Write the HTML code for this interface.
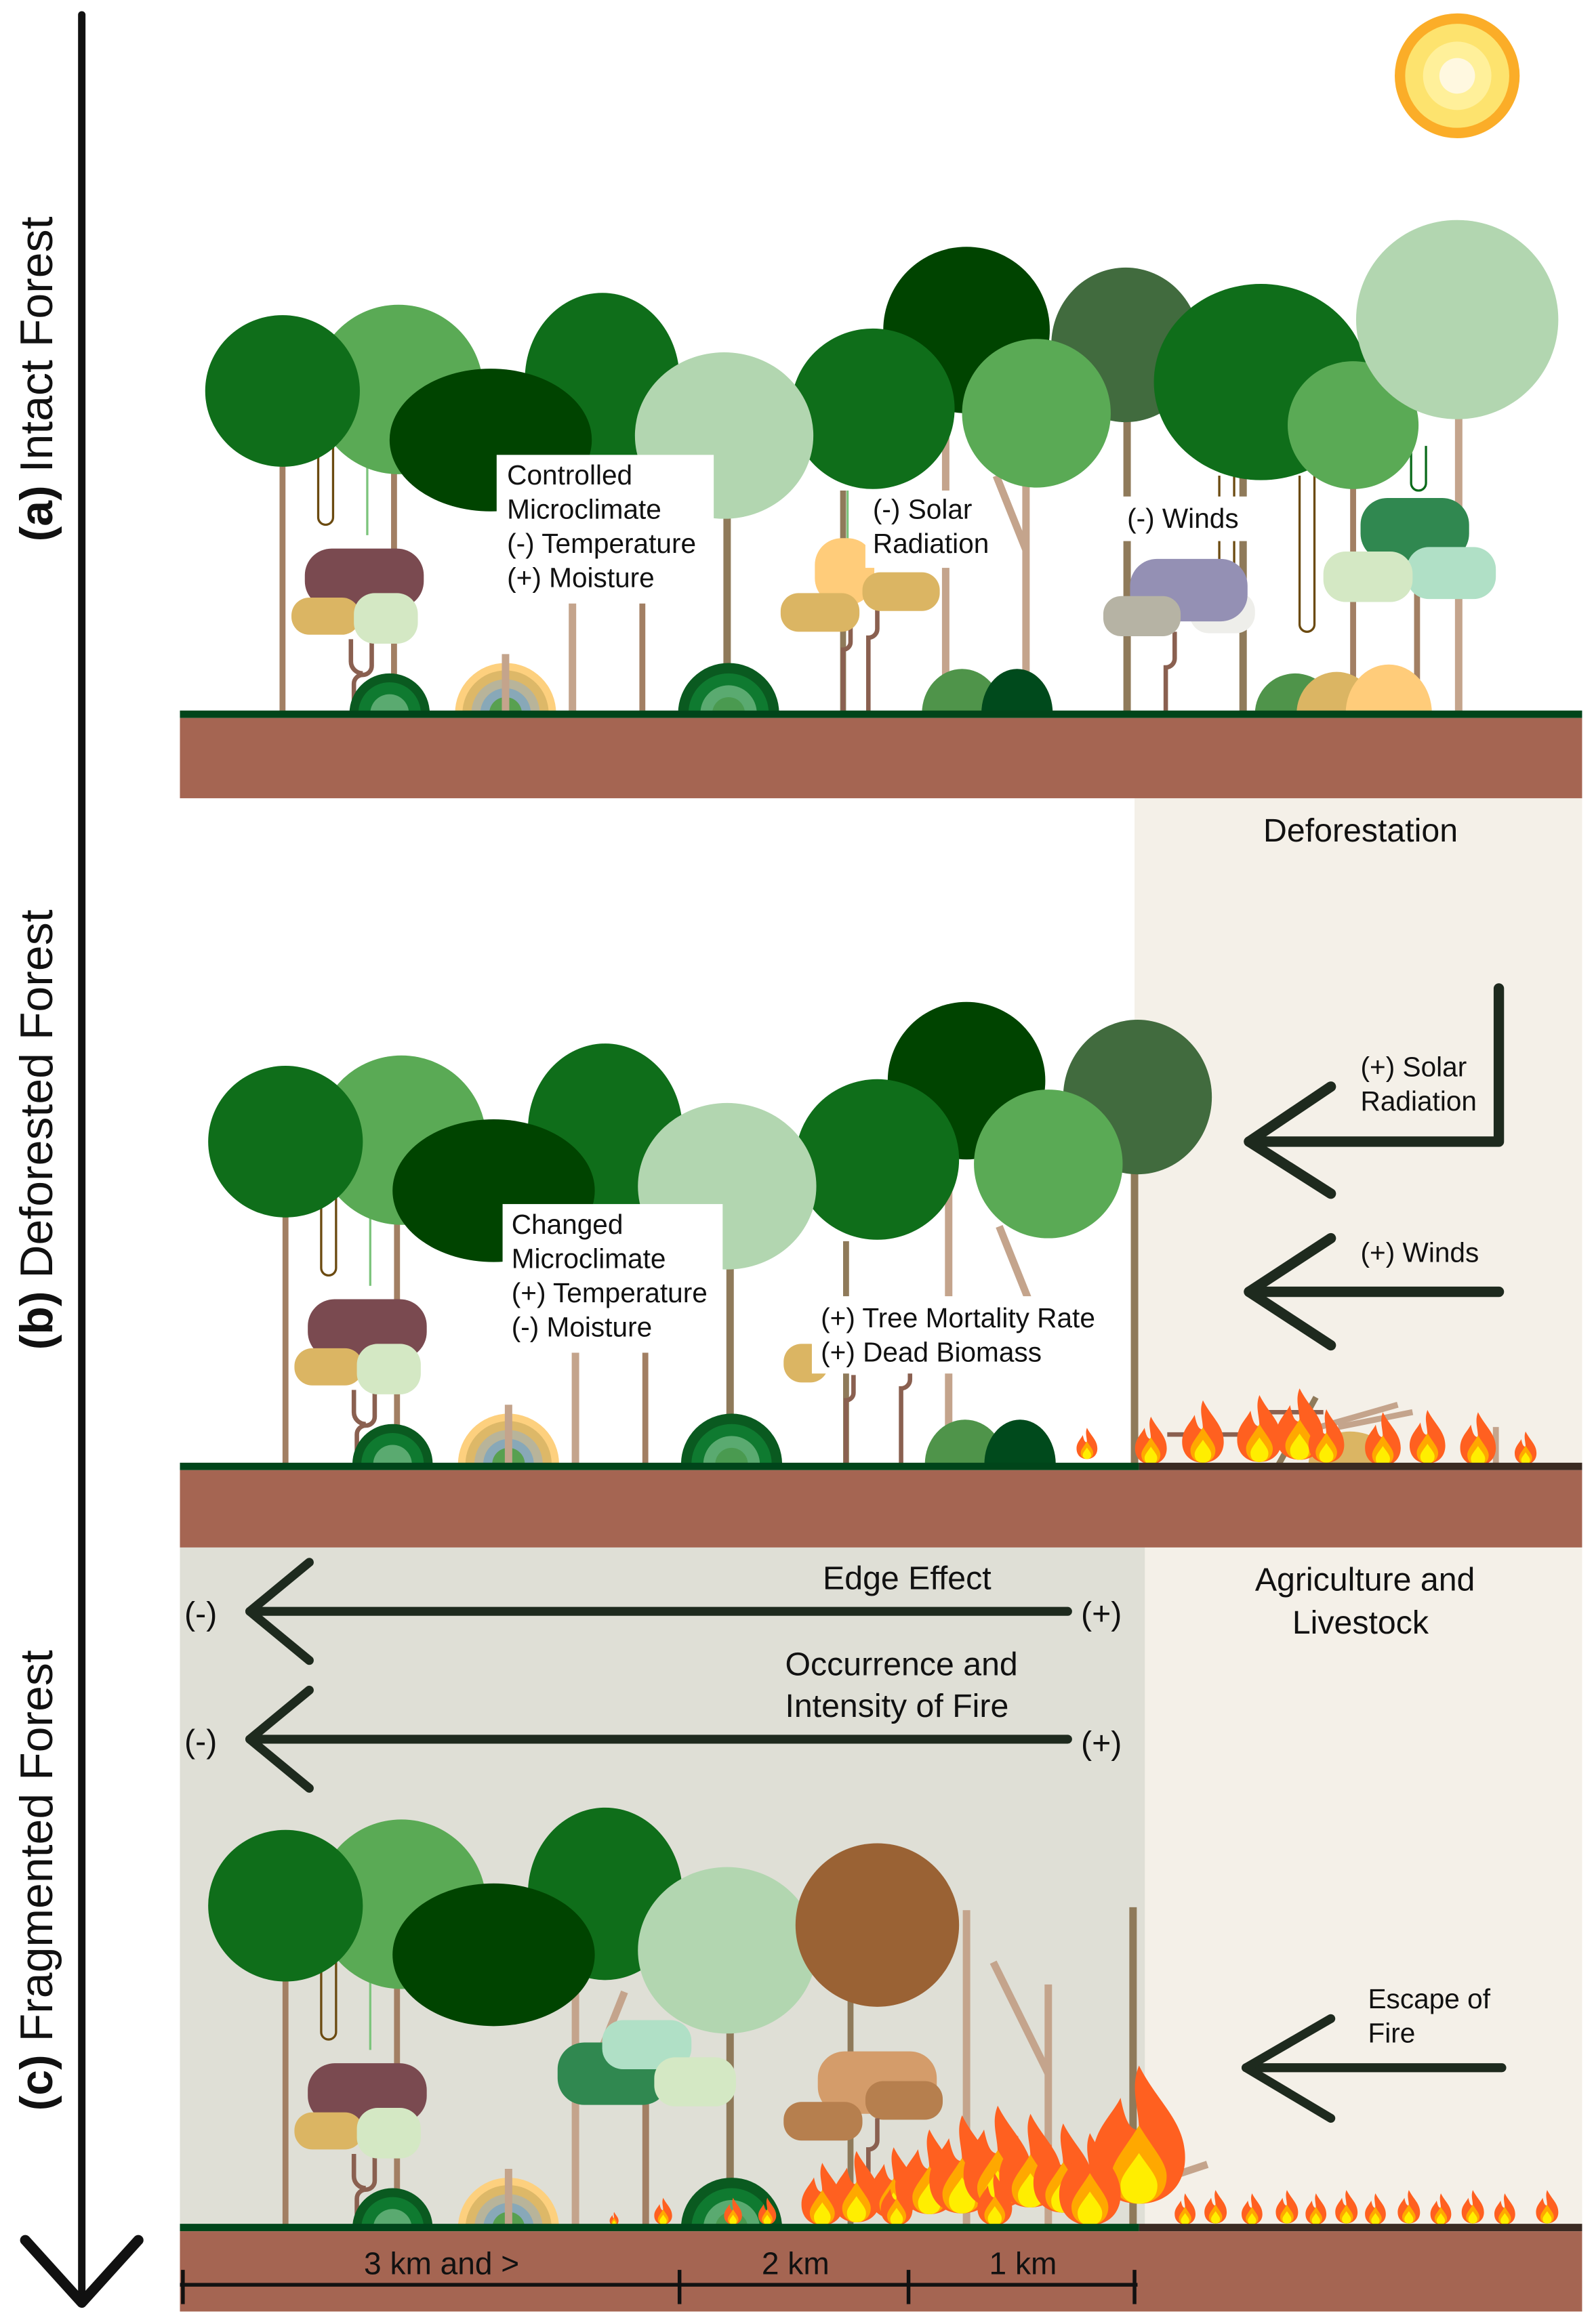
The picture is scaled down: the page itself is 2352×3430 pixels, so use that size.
<!DOCTYPE html>
<html><head><meta charset="utf-8"><style>
html,body{margin:0;padding:0;background:#fff}
svg{display:block}
text{font-family:"Liberation Sans",sans-serif;fill:#111}
</style></head><body>
<svg width="2352" height="3430" viewBox="0 0 1072 1563.4" preserveAspectRatio="none" xmlns="http://www.w3.org/2000/svg">
<defs>
<symbol id="f" viewBox="0 0 20 30" overflow="visible">
<path d="M10 0 C14 8 20 12 20 20 C20 26 16 30 10 30 C4 30 0 26 0 20 C0 14 4 11 6 7 C7 12 8 14 10 14 C10 9 8 5 10 0Z" fill="#ff6020"/>
<path d="M10 13 C13 18 16 21 16 24 C16 28 13 30 10 30 C7 30 4 28 4 24 C4 21 7 18 10 13Z" fill="#ffa800"/>
<path d="M10 19 C12 22 14 24 14 26 C14 29 12 30 10 30 C8 30 6 29 6 26 C6 24 8 22 10 19Z" fill="#ffee00"/>
</symbol>
<g id="L">
<g stroke-width="4">
<line x1="190" y1="260" x2="190" y2="480" stroke="#a27f63"/>
<line x1="265" y1="300" x2="265" y2="480" stroke="#a27f63"/>
<line x1="385" y1="300" x2="385" y2="480" stroke="#c4a48c" stroke-width="5"/>
<line x1="432" y1="380" x2="432" y2="480" stroke="#a27f63"/>
<line x1="489" y1="320" x2="489" y2="480" stroke="#8f7a5a" stroke-width="5"/>
</g>
<path d="M214 300 V348 a5 5 0 0 0 10 0 V300" fill="none" stroke="#6b4a10" stroke-width="1.5"/>
<line x1="247" y1="300" x2="247" y2="360" stroke="#7cc47c" stroke-width="1.5"/>
<circle cx="268" cy="262" r="57" fill="#5aaa55"/>
<ellipse cx="190" cy="263" rx="52" ry="51" fill="#0f6e1a"/>
<ellipse cx="405" cy="255" rx="52" ry="58" fill="#0f6e1a"/>
<ellipse cx="330" cy="296" rx="68" ry="48" fill="#004400"/>
<ellipse cx="487" cy="293" rx="60" ry="56" fill="#b2d6b0"/>
<path d="M236 430 V445 a8 8 0 0 0 8 8 M250 430 v18 a6 6 0 0 1 -6 6 a6 6 0 0 0 -6 6 V480" fill="none" stroke="#8a6050" stroke-width="3"/>
<rect x="205" y="369" width="80" height="40" rx="18" fill="#7a4a50"/>
<rect x="196" y="402" width="46" height="25" rx="12" fill="#dbb563"/>
<rect x="238" y="399" width="43" height="34" rx="14" fill="#d4e8c4"/>
<path d="M235 480 a27 27 0 0 1 54 0Z" fill="#0a5a20"/><path d="M241 480 a21 21 0 0 1 42 0Z" fill="#0f7a30"/><path d="M249 480 a13 13 0 0 1 26 0Z" fill="#5aaa70"/>
<path d="M306 480 a34 34 0 0 1 68 0Z" fill="#fdd07e"/><path d="M311 480 a29 29 0 0 1 58 0Z" fill="#ddb868"/><path d="M317 480 a23 23 0 0 1 46 0Z" fill="#b8b49a"/><path d="M323 480 a17 17 0 0 1 34 0Z" fill="#88a8b8"/><path d="M329 480 a11 11 0 0 1 22 0Z" fill="#58a050"/>
<line x1="340" y1="440" x2="340" y2="480" stroke="#c4a48c" stroke-width="5"/>
<path d="M456 480 a34 34 0 0 1 68 0Z" fill="#0a5a20"/><path d="M463 480 a27 27 0 0 1 54 0Z" fill="#0f7a30"/><path d="M471 480 a19 19 0 0 1 38 0Z" fill="#5aaa70"/><path d="M479 480 a11 11 0 0 1 22 0Z" fill="#4a9a50"/>
</g>
</defs>

<rect x="763" y="537" width="301" height="450" fill="#f4f0e8"/>
<rect x="121" y="1041" width="649" height="458" fill="#dfdfd6"/>
<rect x="770" y="1041" width="294" height="458" fill="#f4f0e8"/>

<circle cx="980" cy="51" r="42" fill="#fbad28"/>
<circle cx="980" cy="51" r="35" fill="#fde36e"/>
<circle cx="980" cy="51" r="23" fill="#fff09a"/>
<circle cx="980" cy="51" r="12" fill="#fff8e0"/>

<g stroke-width="4">
<line x1="567" y1="330" x2="567" y2="480" stroke="#8f7a5a"/>
<line x1="636" y1="270" x2="636" y2="480" stroke="#c4a48c" stroke-width="5"/>
<line x1="690" y1="320" x2="690" y2="480" stroke="#c4a48c" stroke-width="5"/>
<line x1="670" y1="320" x2="690" y2="370" stroke="#c4a48c" stroke-width="5"/>
<line x1="758" y1="280" x2="758" y2="480" stroke="#8f7a5a" stroke-width="5"/>
<line x1="836" y1="320" x2="836" y2="480" stroke="#8f7a5a" stroke-width="5"/>
<line x1="910" y1="320" x2="910" y2="480" stroke="#a27f63"/>
<line x1="981" y1="280" x2="981" y2="480" stroke="#c4a48c" stroke-width="5"/>
<line x1="953" y1="380" x2="953" y2="480" stroke="#a27f63"/>
</g>
<path d="M820 320 V415 a5 5 0 0 0 10 0 V320" fill="none" stroke="#6b4a10" stroke-width="1.5"/>
<path d="M874 320 V420 a5 5 0 0 0 10 0 V320" fill="none" stroke="#6b4a10" stroke-width="1.5"/>
<path d="M949 300 V325 a5 5 0 0 0 10 0 V300" fill="none" stroke="#0a6a1a" stroke-width="1.5"/>
<path d="M570 330 V390 a5 5 0 0 0 10 0" fill="none" stroke="#7cc47c" stroke-width="1.5"/>
<circle cx="650" cy="222" r="56" fill="#004400"/>
<ellipse cx="757" cy="232" rx="50" ry="52" fill="#416b3e"/>
<ellipse cx="587" cy="275" rx="55" ry="54" fill="#0f6e1a"/>
<ellipse cx="697" cy="278" rx="50" ry="50" fill="#5aaa55"/>
<ellipse cx="848" cy="257" rx="72" ry="66" fill="#0f6e1a"/>
<ellipse cx="910" cy="286" rx="44" ry="43" fill="#5aaa55"/>
<ellipse cx="980" cy="215" rx="68" ry="67" fill="#b2d6b0"/>
<rect x="548" y="362" width="40" height="45" rx="18" fill="#ffcc7a"/>
<path d="M572 420 v12 a5 5 0 0 1 -5 5 v43 M590 408 v15 a6 6 0 0 1 -6 6 v51" fill="none" stroke="#8a6050" stroke-width="3"/>
<rect x="525" y="399" width="53" height="26" rx="12" fill="#dbb563"/>
<rect x="580" y="385" width="52" height="26" rx="12" fill="#dbb563"/>
<path d="M790 425 v18 a6 6 0 0 1 -6 6 v31" fill="none" stroke="#8a6050" stroke-width="3"/>
<rect x="800" y="398" width="44" height="28" rx="13" fill="#eeeeea"/>
<rect x="760" y="376" width="79" height="42" rx="18" fill="#9490b4"/>
<rect x="742" y="401" width="52" height="27" rx="12" fill="#b6b3a4"/>
<rect x="915" y="335" width="73" height="42" rx="18" fill="#308850"/>
<rect x="946" y="368" width="60" height="35" rx="15" fill="#b0e0c6"/>
<rect x="890" y="371" width="60" height="34" rx="15" fill="#d4e8c4"/>
<path d="M620 480 a27 30 0 0 1 54 0Z" fill="#4f944a"/>
<path d="M660 480 a24 30 0 0 1 48 0Z" fill="#004a1c"/>
<path d="M844 480 a27 27 0 0 1 54 0Z" fill="#4f944a"/>
<path d="M872 480 a27 28 0 0 1 54 0Z" fill="#dbb563"/>
<path d="M905 480 a29 33 0 0 1 58 0Z" fill="#ffcc7a"/>
<use href="#L"/>
<rect x="334" y="306" width="146" height="100" fill="#fff"/>
<text font-size="18.5"><tspan x="341" y="326">Controlled</tspan><tspan x="341" y="349">Microclimate</tspan><tspan x="341" y="372">(-) Temperature</tspan><tspan x="341" y="395">(+) Moisture</tspan></text>
<rect x="582" y="330" width="88" height="52" fill="#fff"/>
<text font-size="18.5"><tspan x="587" y="349">(-) Solar</tspan><tspan x="587" y="372">Radiation</tspan></text>
<rect x="752" y="334" width="88" height="30" fill="#fff"/>
<text font-size="18.5" x="758" y="355">(-) Winds</text>
<rect x="121" y="478" width="943" height="5" fill="#00451a"/>
<rect x="121" y="483" width="943" height="54" fill="#a56552"/>

<g transform="translate(2,505)">
<g stroke-width="4">
<line x1="567" y1="330" x2="567" y2="480" stroke="#8f7a5a"/>
<line x1="636" y1="270" x2="636" y2="480" stroke="#c4a48c" stroke-width="5"/>
<line x1="670" y1="320" x2="690" y2="370" stroke="#c4a48c" stroke-width="5"/>
<line x1="761" y1="280" x2="761" y2="480" stroke="#8f7a5a" stroke-width="5"/>
</g>
<circle cx="648" cy="222" r="53" fill="#004400"/>
<ellipse cx="763" cy="233" rx="50" ry="52" fill="#416b3e"/>
<ellipse cx="588" cy="275" rx="55" ry="54" fill="#0f6e1a"/>
<ellipse cx="703" cy="278" rx="50" ry="50" fill="#5aaa55"/>
<path d="M620 480 a27 30 0 0 1 54 0Z" fill="#4f944a"/>
<path d="M660 480 a24 30 0 0 1 48 0Z" fill="#004a1c"/>
<path d="M572 420 v12 a5 5 0 0 1 -5 5 v43 M610 408 v15 a6 6 0 0 1 -6 6 v51" fill="none" stroke="#8a6050" stroke-width="3"/>
<rect x="525" y="399" width="30" height="26" rx="12" fill="#dbb563"/>
</g>
<use href="#L" transform="translate(2,505)"/>
<rect x="338" y="810" width="148" height="100" fill="#fff"/>
<text font-size="18.5"><tspan x="344" y="830">Changed</tspan><tspan x="344" y="853">Microclimate</tspan><tspan x="344" y="876">(+) Temperature</tspan><tspan x="344" y="899">(-) Moisture</tspan></text>
<rect x="546" y="872" width="200" height="52" fill="#fff"/>
<text font-size="18.5"><tspan x="552" y="893">(+) Tree Mortality Rate</tspan><tspan x="552" y="916">(+) Dead Biomass</tspan></text>
<text font-size="22" x="915" y="566" text-anchor="middle">Deforestation</text>
<g fill="none" stroke="#1e2a1e" stroke-width="7" stroke-linecap="round" stroke-linejoin="round">
<polyline points="1008,665 1008,768 840,768"/>
<polyline points="895,731 840,768 895,803"/>
<line x1="1008" y1="869" x2="840" y2="869"/>
<polyline points="895,833 840,869 895,905"/>
</g>
<text font-size="18.5"><tspan x="915" y="724">(+) Solar</tspan><tspan x="915" y="747">Radiation</tspan><tspan x="915" y="849">(+) Winds</tspan></text>
<g fill="none" stroke-width="4">
<path d="M785 965 h60 a5 5 0 0 0 5 -5 v-10 h40" stroke="#8a6050" stroke-width="3"/>
<line x1="860" y1="985" x2="885" y2="940" stroke="#8f7a5a"/>
<line x1="870" y1="965" x2="940" y2="945" stroke="#c4a48c"/>
<line x1="900" y1="960" x2="950" y2="950" stroke="#c4a48c"/>
<line x1="1006" y1="960" x2="1006" y2="985" stroke="#c4a48c"/>
</g>
<path d="M880 985 a28 22 0 0 1 56 0Z" fill="#dbb563"/>
<g>
<use href="#f" x="724" y="960" width="14" height="22"/>
<use href="#f" x="763" y="953" width="22" height="32"/>
<use href="#f" x="795" y="942" width="28" height="42"/>
<use href="#f" x="832" y="938" width="30" height="46"/>
<use href="#f" x="858" y="932" width="32" height="52"/>
<use href="#f" x="880" y="948" width="24" height="36"/>
<use href="#f" x="918" y="950" width="24" height="36"/>
<use href="#f" x="948" y="948" width="24" height="37"/>
<use href="#f" x="982" y="950" width="24" height="36"/>
<use href="#f" x="1018" y="963" width="16" height="22"/>
</g>
<rect x="121" y="984" width="645" height="5" fill="#00451a"/>
<rect x="766" y="984" width="298" height="5" fill="#3a2a22"/>
<rect x="121" y="989" width="943" height="52" fill="#a56552"/>

<g fill="none" stroke="#1e2a1e" stroke-width="6" stroke-linecap="round" stroke-linejoin="round">
<line x1="718" y1="1084" x2="168" y2="1084"/>
<polyline points="208,1051 168,1084 208,1117"/>
<line x1="718" y1="1170" x2="168" y2="1170"/>
<polyline points="208,1137 168,1170 208,1203"/>
<line x1="1010" y1="1391" x2="838" y2="1391"/>
<polyline points="895,1358 838,1391 895,1425"/>
</g>
<text font-size="22"><tspan x="610" y="1069" text-anchor="middle">Edge Effect</tspan><tspan x="528" y="1127">Occurrence and</tspan><tspan x="528" y="1155">Intensity of Fire</tspan>
<tspan x="918" y="1070" text-anchor="middle">Agriculture and</tspan><tspan x="918" y="1099" text-anchor="middle">Livestock</tspan>
<tspan x="124" y="1093">(-)</tspan><tspan x="124" y="1179">(-)</tspan><tspan x="727" y="1093">(+)</tspan><tspan x="727" y="1180">(+)</tspan></text>
<text font-size="18.5"><tspan x="920" y="1351">Escape of</tspan><tspan x="920" y="1374">Fire</tspan></text>
<g stroke-width="5">
<line x1="650" y1="1285" x2="650" y2="1497" stroke="#c4a48c"/>
<line x1="668" y1="1320" x2="705" y2="1395" stroke="#c4a48c"/>
<line x1="705" y1="1335" x2="705" y2="1497" stroke="#c4a48c"/>
<line x1="762" y1="1283" x2="762" y2="1497" stroke="#8f7a5a"/>
<line x1="740" y1="1480" x2="812" y2="1456" stroke="#c4a48c"/>
<line x1="420" y1="1340" x2="400" y2="1390" stroke="#c4a48c"/>
<line x1="435" y1="1390" x2="435" y2="1497" stroke="#a27f63" stroke-width="3"/>
</g>
<use href="#L" transform="translate(2,1019)"/>
<path d="M575 1340 v-20 a8 8 0 0 1 8 -8 v-20" fill="none" stroke="#8f7a5a" stroke-width="5"/>
<line x1="572" y1="1340" x2="572" y2="1497" stroke="#8f7a5a" stroke-width="4"/>
<ellipse cx="590" cy="1295" rx="55" ry="55" fill="#9a6234"/>
<rect x="375" y="1374" width="75" height="42" rx="18" fill="#308850"/>
<rect x="405" y="1359" width="60" height="33" rx="14" fill="#b0e0c6"/>
<rect x="440" y="1384" width="55" height="33" rx="14" fill="#d4e8c4"/>
<rect x="550" y="1380" width="80" height="42" rx="18" fill="#d49c6a"/>
<rect x="527" y="1414" width="53" height="26" rx="12" fill="#b67f4e"/>
<rect x="582" y="1400" width="52" height="26" rx="12" fill="#b67f4e"/>
<path d="M590 1425 v15 a6 6 0 0 1 -6 6 v20" fill="none" stroke="#8a6050" stroke-width="3"/>
<g>
<use href="#f" x="410" y="1488" width="6" height="9"/>
<use href="#f" x="440" y="1478" width="12" height="19"/>
<use href="#f" x="487" y="1478" width="12" height="19"/>
<use href="#f" x="510" y="1478" width="12" height="19"/>
<use href="#f" x="538" y="1455" width="30" height="42"/>
<use href="#f" x="560" y="1445" width="32" height="52"/>
<use href="#f" x="585" y="1440" width="32" height="57"/>
<use href="#f" x="606" y="1425" width="38" height="72"/>
<use href="#f" x="625" y="1415" width="44" height="82"/>
<use href="#f" x="648" y="1405" width="46" height="92"/>
<use href="#f" x="672" y="1410" width="42" height="87"/>
<use href="#f" x="695" y="1420" width="40" height="77"/>
<use href="#f" x="735" y="1375" width="62" height="122"/>
<use href="#f" x="712" y="1435" width="42" height="62"/>
<use href="#f" x="590" y="1465" width="26" height="32"/>
<use href="#f" x="655" y="1462" width="28" height="35"/>
</g>
<g>
<use href="#f" x="790" y="1475" width="14" height="22"/>
<use href="#f" x="810" y="1472" width="15" height="25"/>
<use href="#f" x="835" y="1475" width="14" height="22"/>
<use href="#f" x="858" y="1472" width="15" height="25"/>
<use href="#f" x="878" y="1475" width="14" height="22"/>
<use href="#f" x="898" y="1472" width="15" height="25"/>
<use href="#f" x="918" y="1475" width="14" height="22"/>
<use href="#f" x="940" y="1472" width="15" height="25"/>
<use href="#f" x="962" y="1475" width="14" height="22"/>
<use href="#f" x="983" y="1472" width="15" height="25"/>
<use href="#f" x="1005" y="1475" width="14" height="22"/>
<use href="#f" x="1033" y="1472" width="15" height="25"/>
</g>
<rect x="121" y="1496" width="645" height="5" fill="#00451a"/>
<rect x="766" y="1496" width="298" height="5" fill="#3a2a22"/>
<rect x="121" y="1501" width="943" height="54" fill="#a56552"/>
<g stroke="#111" stroke-width="2.5">
<line x1="121" y1="1537" x2="765" y2="1537"/>
<line x1="123" y1="1527" x2="123" y2="1550"/>
<line x1="457" y1="1527" x2="457" y2="1550"/>
<line x1="611" y1="1527" x2="611" y2="1550"/>
<line x1="763" y1="1527" x2="763" y2="1550"/>
</g>
<text font-size="21"><tspan x="297" y="1530" text-anchor="middle">3 km and &gt;</tspan><tspan x="535" y="1530" text-anchor="middle">2 km</tspan><tspan x="688" y="1530" text-anchor="middle">1 km</tspan></text>

<g stroke="#111" fill="none" stroke-linecap="round" stroke-linejoin="round">
<line x1="55" y1="10" x2="55" y2="1548" stroke-width="5"/>
<polyline points="17,1507 55,1549 93,1507" stroke-width="7"/>
</g>
<text font-size="31" transform="translate(35,255) rotate(-90)" text-anchor="middle"><tspan font-weight="bold">(a)</tspan> Intact Forest</text>
<text font-size="31" transform="translate(35,760) rotate(-90)" text-anchor="middle"><tspan font-weight="bold">(b)</tspan> Deforested Forest</text>
<text font-size="31" transform="translate(35,1265) rotate(-90)" text-anchor="middle"><tspan font-weight="bold">(c)</tspan> Fragmented Forest</text>
</svg>
</body></html>
